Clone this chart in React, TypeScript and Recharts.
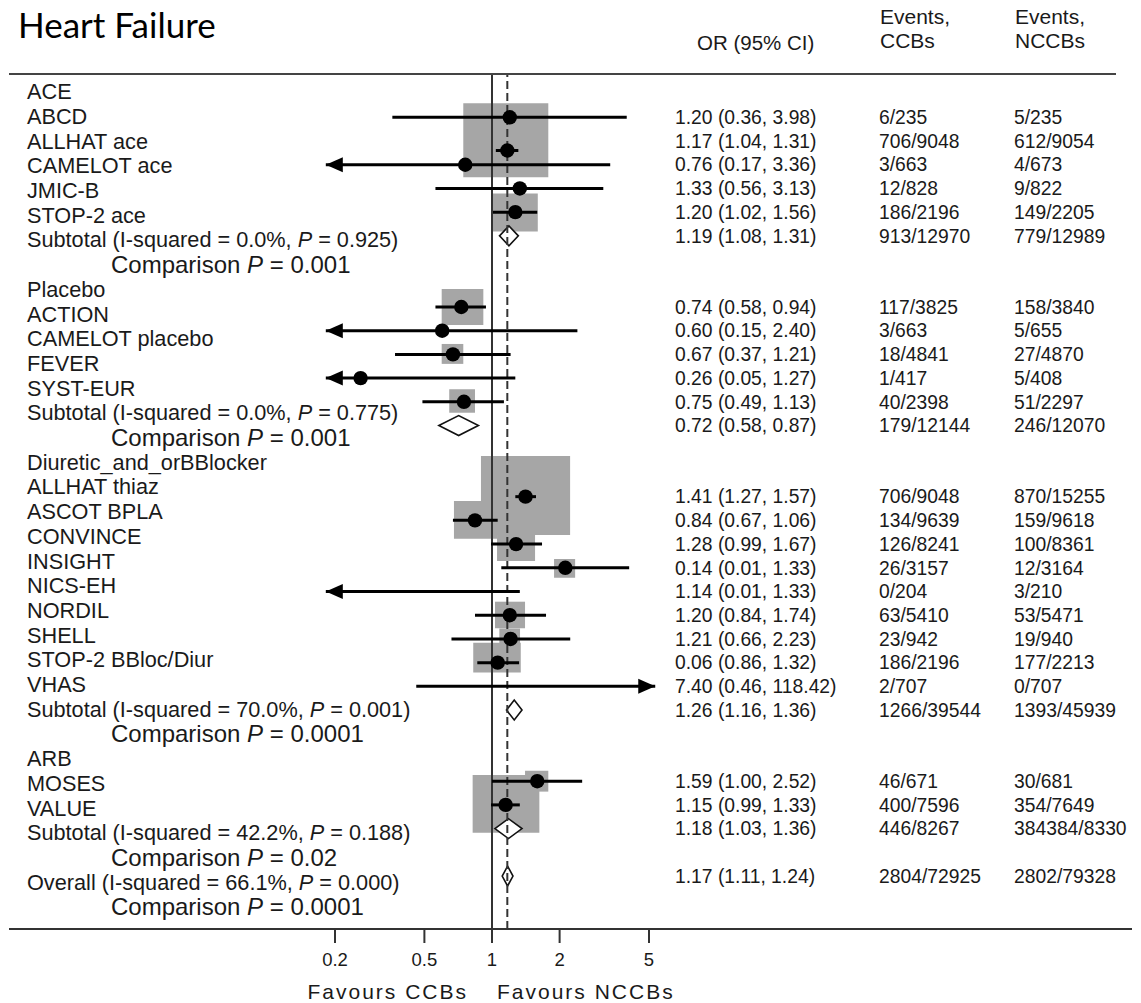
import React from "react";
import {
  ComposedChart, XAxis, YAxis, Scatter, ReferenceLine, ReferenceArea,
} from "recharts";

const FONT = '"Liberation Sans", Arial, Helvetica, sans-serif';
const INK = "#1a1a1a";

// left column labels (own row grid)
const labelRows = [
  "ACE", "ABCD", "ALLHAT ace", "CAMELOT ace", "JMIC-B", "STOP-2 ace",
  "Subtotal (I-squared = 0.0%, P = 0.925)", "Comparison P = 0.001",
  "Placebo", "ACTION", "CAMELOT placebo", "FEVER", "SYST-EUR",
  "Subtotal (I-squared = 0.0%, P = 0.775)", "Comparison P = 0.001",
  "Diuretic_and_orBBlocker", "ALLHAT thiaz", "ASCOT BPLA", "CONVINCE", "INSIGHT",
  "NICS-EH", "NORDIL", "SHELL", "STOP-2 BBloc/Diur", "VHAS",
  "Subtotal (I-squared = 70.0%, P = 0.001)", "Comparison P = 0.0001",
  "ARB", "MOSES", "VALUE", "Subtotal (I-squared = 42.2%, P = 0.188)", "Comparison P = 0.02",
  "Overall (I-squared = 66.1%, P = 0.000)", "Comparison P = 0.0001",
];

// right hand columns, on the marker row grid
const textRows = [0, 1, 2, 3, 4, 5, 8, 9, 10, 11, 12, 13, 16, 17, 18, 19, 20, 21, 22, 23, 24, 25, 28, 29, 30, 32];
const orText = [
  "1.20 (0.36, 3.98)", "1.17 (1.04, 1.31)", "0.76 (0.17, 3.36)", "1.33 (0.56, 3.13)", "1.20 (1.02, 1.56)", "1.19 (1.08, 1.31)",
  "0.74 (0.58, 0.94)", "0.60 (0.15, 2.40)", "0.67 (0.37, 1.21)", "0.26 (0.05, 1.27)", "0.75 (0.49, 1.13)", "0.72 (0.58, 0.87)",
  "1.41 (1.27, 1.57)", "0.84 (0.67, 1.06)", "1.28 (0.99, 1.67)", "0.14 (0.01, 1.33)", "1.14 (0.01, 1.33)", "1.20 (0.84, 1.74)",
  "1.21 (0.66, 2.23)", "0.06 (0.86, 1.32)", "7.40 (0.46, 118.42)", "1.26 (1.16, 1.36)",
  "1.59 (1.00, 2.52)", "1.15 (0.99, 1.33)", "1.18 (1.03, 1.36)", "1.17 (1.11, 1.24)",
];
const eventsCCB = [
  "6/235", "706/9048", "3/663", "12/828", "186/2196", "913/12970",
  "117/3825", "3/663", "18/4841", "1/417", "40/2398", "179/12144",
  "706/9048", "134/9639", "126/8241", "26/3157", "0/204", "63/5410", "23/942", "186/2196", "2/707", "1266/39544",
  "46/671", "400/7596", "446/8267", "2804/72925",
];
const eventsNCCB = [
  "5/235", "612/9054", "4/673", "9/822", "149/2205", "779/12989",
  "158/3840", "5/655", "27/4870", "5/408", "51/2297", "246/12070",
  "870/15255", "159/9618", "100/8361", "12/3164", "3/210", "53/5471", "19/940", "177/2213", "0/707", "1393/45939",
  "30/681", "354/7649", "384384/8330", "2802/79328",
];

// study estimates as drawn
const studyRow = [0, 1.4, 2, 3, 4, 8, 9, 10, 11, 12, 16, 17, 18, 19, 20, 21, 22, 23, 24, 28, 29];
const studyOR = [1.2, 1.17, 0.76, 1.33, 1.27, 0.73, 0.6, 0.67, 0.26, 0.75, 1.41, 0.84, 1.28, 2.12, null, 1.2, 1.21, 1.06, 7.4, 1.59, 1.15];
const studyLo = [0.36, 1.04, 0.17, 0.56, 1.01, 0.56, 0.15, 0.37, 0.05, 0.49, 1.27, 0.67, 0.99, 1.1, 0.01, 0.84, 0.66, 0.86, 0.46, 1.0, 0.99];
const studyHi = [3.98, 1.31, 3.36, 3.13, 1.59, 0.94, 2.4, 1.21, 1.27, 1.13, 1.57, 1.06, 1.67, 4.08, 1.33, 1.74, 2.23, 1.32, 118.42, 2.52, 1.33];

// weight boxes (OR extent, row extent)
const boxLo = [0.745, 1.0, 0.597, 0.597, 0.645, 0.893, 0.677, 1.053, 1.889, 1.031, 1.078, 0.825, 1.403, 0.82];
const boxHi = [1.781, 1.599, 0.915, 0.745, 0.84, 2.227, 1.053, 1.555, 2.345, 1.403, 1.333, 1.343, 1.781, 1.625];
const boxTop = [-0.59, 3.21, 7.24, 9.56, 11.47, 14.29, 16.18, 17.28, 18.63, 20.43, 21.56, 22.16, 27.56, 27.74];
const boxBottom = [2.53, 4.82, 8.76, 10.4, 12.46, 17.62, 17.77, 18.71, 19.42, 21.55, 22.45, 23.42, 28.44, 30.17];

// pooled diamonds
const pooledRow = [5, 13, 25, 30, 32];
const pooledLo = [1.08, 0.58, 1.16, 1.03, 1.11];
const pooledHi = [1.31, 0.87, 1.36, 1.36, 1.24];
const overallOR = 1.17;

const xTicks = [0.2, 0.5, 1, 2, 5];

// axis ranges
const X_MIN = Math.pow(10, -2.1505);
const X_MAX = Math.pow(10, 2.8495);
const CLIP_MIN = 0.182;
const CLIP_MAX = 5.33;
const ROW_DOMAIN: [number, number] = [-1.826, 34.234];
const LABEL_DOMAIN: [number, number] = [-0.717, 33.9];
const DIAMOND_HALF = 0.42;

const points = studyOR
  .map((v, i) => ({ x: v, y: studyRow[i] }))
  .filter((p) => p.x != null && p.x >= CLIP_MIN && p.x <= CLIP_MAX);

const arrows: { x: number; y: number; dir: number }[] = [];
studyRow.forEach((r, i) => {
  if (studyLo[i] < CLIP_MIN) arrows.push({ x: CLIP_MIN, y: r, dir: -1 });
  if (studyHi[i] > CLIP_MAX) arrows.push({ x: CLIP_MAX, y: r, dir: 1 });
});

function withItalicP(text: string) {
  const k = text.indexOf("P = ");
  if (k < 0) return text;
  return (
    <>
      {text.slice(0, k)}
      <tspan fontStyle="italic">P</tspan>
      {text.slice(k + 1)}
    </>
  );
}

const LabelTick = (p: any) => {
  const t = labelRows[p.payload.value];
  if (!t) return <g />;
  const comp = t.startsWith("Comparison");
  return (
    <text x={comp ? 111 : 27} y={p.y} dy="0.35em" fontSize={comp ? 24 : 21.7} fill={INK} fontFamily={FONT} textAnchor="start">
      {withItalicP(t)}
    </text>
  );
};

const RowTick = (p: any) => {
  const k = textRows.indexOf(p.payload.value);
  if (k < 0) return <g />;
  const common = { y: p.y, dy: "0.35em", fontSize: 19.3, fill: INK, fontFamily: FONT, textAnchor: "start" as const };
  return (
    <g>
      <text x={675} {...common}>{orText[k]}</text>
      <text x={879} {...common}>{eventsCCB[k]}</text>
      <text x={1014} {...common}>{eventsNCCB[k]}</text>
    </g>
  );
};

const Dot = (p: any) => <circle cx={p.cx} cy={p.cy} r={7.2} fill="#000" />;

const Arrow = (p: any) => {
  const d = p.payload.dir;
  const bx = p.cx - d * 17;
  return <polygon points={`${p.cx},${p.cy} ${bx},${p.cy - 7.5} ${bx},${p.cy + 7.5}`} fill="#000" />;
};

const Diamond = (p: any) => {
  const { x, y, width, height } = p;
  const cx = x + width / 2;
  const cy = y + height / 2;
  return (
    <polygon
      points={`${x},${cy} ${cx},${y} ${x + width},${cy} ${cx},${y + height}`}
      fill="#fff" stroke="#111" strokeWidth={1.6}
    />
  );
};

export default function App() {
  return (
    <div style={{ position: "absolute", left: 0, top: 0, width: 1141, height: 1003, background: "#fff", fontFamily: FONT }}>
      <ComposedChart width={1141} height={1003} margin={{ top: 74, right: 8, bottom: 34, left: 8 }}>
        <XAxis
          dataKey="x" type="number" scale="log" domain={[X_MIN, X_MAX]} allowDataOverflow
          ticks={xTicks} interval={0} height={40} tickSize={14} tickMargin={10}
          tick={{ fontSize: 18.5, fill: INK, fontFamily: FONT }}
          tickLine={{ stroke: "#333", strokeWidth: 2 }}
          axisLine={{ stroke: "#333", strokeWidth: 2 }}
        />
        <YAxis
          yAxisId="labels" orientation="left" type="number" domain={LABEL_DOMAIN} reversed allowDataOverflow
          ticks={labelRows.map((_, i) => i)} interval={0} width={1} axisLine={false} tickLine={false}
          tick={(p: any) => <LabelTick {...p} />}
        />
        <YAxis
          yAxisId="rows" dataKey="y" orientation="right" type="number" domain={ROW_DOMAIN} reversed allowDataOverflow
          ticks={textRows} interval={0} width={1} axisLine={false} tickLine={false}
          tick={(p: any) => <RowTick {...p} />}
        />

        {boxLo.map((lo, i) => (
          <ReferenceArea
            key={`box${i}`} yAxisId="rows" x1={lo} x2={boxHi[i]} y1={boxTop[i]} y2={boxBottom[i]}
            fill="#a6a6a6" fillOpacity={1} stroke="none" ifOverflow="visible"
          />
        ))}

        <ReferenceLine yAxisId="rows" x={1} stroke="#333" strokeWidth={2} ifOverflow="visible" />
        <ReferenceLine yAxisId="rows" x={overallOR} stroke="#333" strokeWidth={2} strokeDasharray="8 4" ifOverflow="visible" />

        {studyRow.map((r, i) => (
          <ReferenceLine
            key={`ci${i}`} yAxisId="rows" ifOverflow="visible" stroke="#000" strokeWidth={3}
            segment={[
              { x: Math.max(studyLo[i], CLIP_MIN), y: r },
              { x: Math.min(studyHi[i], CLIP_MAX), y: r },
            ]}
          />
        ))}

        {pooledRow.map((r, i) => (
          <ReferenceArea
            key={`pool${i}`} yAxisId="rows" x1={pooledLo[i]} x2={pooledHi[i]}
            y1={r - DIAMOND_HALF} y2={r + DIAMOND_HALF} ifOverflow="visible"
            shape={(p: any) => <Diamond {...p} />}
          />
        ))}

        <Scatter yAxisId="rows" dataKey="y" data={points} shape={(p: any) => <Dot {...p} />} isAnimationActive={false} />
        <Scatter yAxisId="rows" dataKey="y" data={arrows} shape={(p: any) => <Arrow {...p} />} isAnimationActive={false} />
      </ComposedChart>

      <svg width={1141} height={1003} style={{ position: "absolute", left: 0, top: 0, pointerEvents: "none" }}>
        <text x={18} y={38} fontSize={35} fontFamily='Lato, "Open Sans", sans-serif' fill="#000">Heart Failure</text>
        <text x={697} y={43} dy="0.35em" fontSize={20.5} fontFamily={FONT} fill={INK}>OR (95% CI)</text>
        <text x={880} y={17} dy="0.35em" fontSize={21} fontFamily={FONT} fill={INK}>Events,</text>
        <text x={880} y={41} dy="0.35em" fontSize={21} fontFamily={FONT} fill={INK}>CCBs</text>
        <text x={1015} y={17} dy="0.35em" fontSize={21} fontFamily={FONT} fill={INK}>Events,</text>
        <text x={1015} y={41} dy="0.35em" fontSize={21} fontFamily={FONT} fill={INK}>NCCBs</text>
        <line x1={9} x2={1116} y1={74} y2={74} stroke="#444" strokeWidth={2} />
        <text x={468} y={992} dy="0.35em" fontSize={21} letterSpacing={2} textAnchor="end" fontFamily={FONT} fill={INK}>Favours CCBs</text>
        <text x={497} y={992} dy="0.35em" fontSize={21} letterSpacing={2} textAnchor="start" fontFamily={FONT} fill={INK}>Favours NCCBs</text>
      </svg>
    </div>
  );
}
